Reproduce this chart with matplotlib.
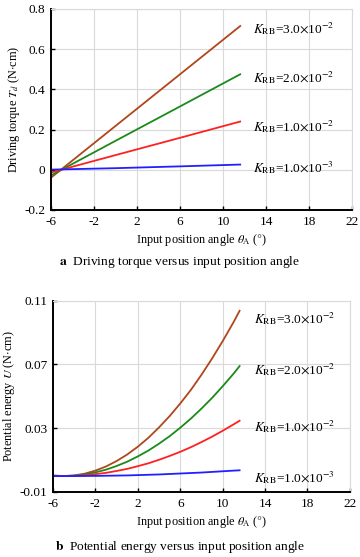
import matplotlib
matplotlib.use("Agg")
import matplotlib.pyplot as plt

plt.rcParams['font.family'] = ['Liberation Serif', 'DejaVu Serif']
plt.rcParams['mathtext.fontset'] = 'stix'

# input position angle (deg)
theta_t = [-5.9, 0, 6, 11.6]
torque = {
    "3.0e-2": [-0.035, 0.218, 0.475, 0.715],
    "2.0e-2": [-0.025, 0.144, 0.315, 0.475],
    "1.0e-2": [-0.012, 0.073, 0.159, 0.240],
    "1.0e-3": [0.001, 0.008, 0.017, 0.026],
}

theta_u = [-5.9, -5, -4, -3, -2, -1, 0, 1, 2, 3, 4, 5, 6, 7, 8, 9, 10, 11, 11.6]
energy = {
    "3.0e-2": [0.0003, 0.0, 0.0004, 0.0015, 0.0034, 0.006, 0.0094, 0.0135, 0.0184, 0.024,
               0.0305, 0.0376, 0.0455, 0.054, 0.0635, 0.0737, 0.0846, 0.0962, 0.1037],
    "2.0e-2": [0.0002, 0.0, 0.00025, 0.001, 0.0023, 0.004, 0.0063, 0.009, 0.0123, 0.016,
               0.0203, 0.025, 0.0303, 0.036, 0.0423, 0.049, 0.0563, 0.064, 0.069],
    "1.0e-2": [0.0001, 0.0, 0.00013, 0.0005, 0.0012, 0.002, 0.0032, 0.0045, 0.0062, 0.008,
               0.0102, 0.0126, 0.0152, 0.0181, 0.0213, 0.0247, 0.0284, 0.0323, 0.0347],
    "1.0e-3": [0.0, 0.0, 0.00001, 0.00005, 0.0001, 0.0002, 0.0003, 0.0004, 0.0006, 0.0008,
               0.001, 0.0013, 0.0016, 0.0019, 0.0022, 0.0026, 0.003, 0.0034, 0.0036],
}

labels = {
    "3.0e-2": r"$K_{\mathrm{RB}}$=3.0$\times$10$^{-2}$",
    "2.0e-2": r"$K_{\mathrm{RB}}$=2.0$\times$10$^{-2}$",
    "1.0e-2": r"$K_{\mathrm{RB}}$=1.0$\times$10$^{-2}$",
    "1.0e-3": r"$K_{\mathrm{RB}}$=1.0$\times$10$^{-3}$",
}
colors = {"3.0e-2": "#b0461c", "2.0e-2": "#1a8a1a", "1.0e-2": "#ff2020", "1.0e-3": "#2020ff"}

label_y_top = {"3.0e-2": 0.705, "2.0e-2": 0.457, "1.0e-2": 0.213, "1.0e-3": 0.009}
label_y_bot = {"3.0e-2": 0.099, "2.0e-2": 0.0666, "1.0e-2": 0.0311, "1.0e-3": -0.0012}

fig = plt.figure(figsize=(3.6, 5.57), dpi=100)
ax1 = fig.add_axes([0.1417, 0.623, 0.836, 0.3609])
ax2 = fig.add_axes([0.147, 0.1167, 0.825, 0.3434])


def style(ax):
    ax.grid(True, color="#d9d9d9", linewidth=0.8)
    ax.set_axisbelow(True)
    for s in ("top", "right"):
        ax.spines[s].set_color("#d9d9d9")
        ax.spines[s].set_linewidth(0.8)
    for s in ("left", "bottom"):
        ax.spines[s].set_linewidth(1.4)
    ax.tick_params(direction="in", length=3, width=1, labelsize=9.5, pad=4,
                   top=False, right=False)
    ax.set_xlim(-6, 22)
    ax.set_xticks([-6, -2, 2, 6, 10, 14, 18, 22])


for k in torque:
    ax1.plot(theta_t, torque[k], color=colors[k], lw=1.3)
    ax1.text(12.8, label_y_top[k], labels[k], fontsize=9.6, va="center", ha="left")
style(ax1)
ax1.set_ylim(-0.2, 0.8)
ax1.set_yticks([-0.2, 0, 0.2, 0.4, 0.6, 0.8])
ax1.set_yticklabels(["-0.2", "0", "0.2", "0.4", "0.6", "0.8"])
ax1.set_xticklabels(["-6", "-2", "2", "6", "10", "14", "18", "22"])
ax1.set_ylabel(r"Driving torque $T_d$ (N$\cdot$cm)", fontsize=8.8, labelpad=2)
ax1.set_xlabel(r"Input position angle $\theta_{\mathrm{A}}$ ($\degree$)", fontsize=8.8, labelpad=3)

for k in energy:
    ax2.plot(theta_u, energy[k], color=colors[k], lw=1.3)
    ax2.text(13.0, label_y_bot[k], labels[k], fontsize=9.6, va="center", ha="left")
style(ax2)
ax2.set_ylim(-0.01, 0.11)
ax2.set_yticks([-0.01, 0.03, 0.07, 0.11])
ax2.set_yticklabels(["-0.01", "0.03", "0.07", "0.11"])
ax2.set_xticklabels(["-6", "-2", "2", "6", "10", "14", "18", "22"])
ax2.set_ylabel(r"Potential energy $U$ (N$\cdot$cm)", fontsize=8.8, labelpad=2)
ax2.set_xlabel(r"Input position angle $\theta_{\mathrm{A}}$ ($\degree$)", fontsize=8.8, labelpad=3)

fig.text(0.5, 1 - 262 / 557, r"$\mathbf{a}$  Driving torque versus input position angle",
         ha="center", va="center", fontsize=9.6)
fig.text(0.5, 1 - 547 / 557, r"$\mathbf{b}$  Potential energy versus input position angle",
         ha="center", va="center", fontsize=9.6)

fig.savefig("out.png", dpi=100)
